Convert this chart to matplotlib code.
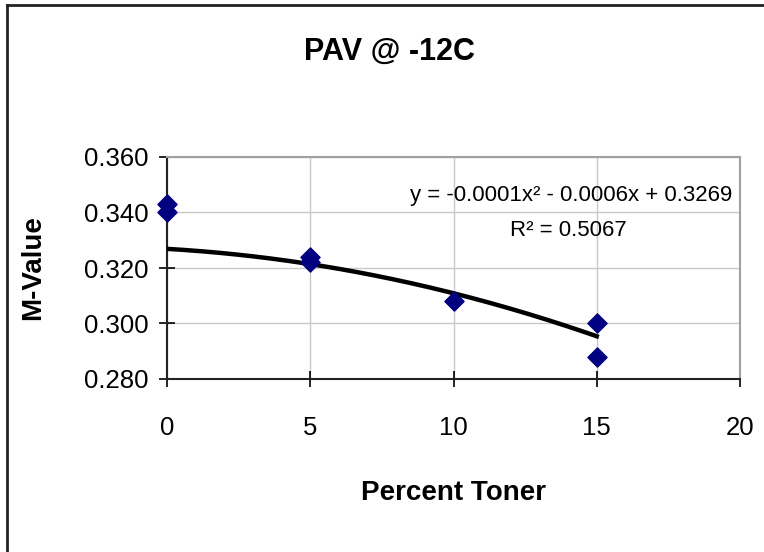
import numpy as np
import matplotlib
matplotlib.use("Agg")
import matplotlib.pyplot as plt
from matplotlib.lines import Line2D

plt.rcParams["font.family"] = ["Liberation Sans", "DejaVu Sans"]

# data
toner = [0, 0, 5, 5, 10, 15, 15]
m_value = [0.343, 0.340, 0.324, 0.322, 0.308, 0.300, 0.288]

# trendline coefficients as printed on the chart (x^2, x, 1)
trend_coef = [-0.0001, -0.0006, 0.3269]
trend_label = "y = -0.0001x² - 0.0006x + 0.3269"
r2_label = "R² = 0.5067"

x_ticks = [0, 5, 10, 15, 20]
y_ticks = [0.280, 0.300, 0.320, 0.340, 0.360]

fig = plt.figure(figsize=(7.64, 5.52), dpi=100)
ax = fig.add_axes([167 / 764, 1 - 379 / 552, (740 - 167) / 764, (379 - 157) / 552])

# outer chart frame (only top / left visible in the reference)
fig.add_artist(Line2D([7 / 764, 1], [1 - 5 / 552, 1 - 5 / 552], color="#222222", lw=2.0,
                      transform=fig.transFigure))
fig.add_artist(Line2D([7 / 764, 7 / 764], [0, 1 - 5 / 552], color="#222222", lw=2.0,
                      transform=fig.transFigure))

# trendline
xt = np.linspace(min(toner), max(toner), 200)
ax.plot(xt, np.polyval(trend_coef, xt), color="black", lw=3.2, zorder=3)

# data points
ax.scatter(toner, m_value, marker="D", s=95, color="#000080", zorder=4, clip_on=False)

ax.set_xlim(0, 20)
ax.set_ylim(0.280, 0.360)
ax.set_xticks(x_ticks)
ax.set_yticks(y_ticks)
ax.set_yticklabels([f"{v:.3f}" for v in y_ticks])
ax.tick_params(direction="inout", length=11, width=1.2, labelsize=18.5, pad=8)
ax.tick_params(axis="x", pad=21)

ax.grid(True, color="#c8c8c8", lw=1.0)
ax.set_axisbelow(True)
for s in ["top", "right"]:
    ax.spines[s].set_color("#a0a0a0")
    ax.spines[s].set_linewidth(1.5)
for s in ["left", "bottom"]:
    ax.spines[s].set_color("#222222")
    ax.spines[s].set_linewidth(1.5)

ax.set_xlabel("Percent Toner", fontsize=20, fontweight="bold", labelpad=29)
ax.set_ylabel("M-Value", fontsize=20, fontweight="bold", labelpad=27)
fig.text(390 / 764, 1 - 52 / 552, "PAV @ -12C", fontsize=22, fontweight="bold",
         ha="center", va="center")

ax.text(571 / 764, 1 - 195 / 552, trend_label, fontsize=16, ha="center", va="center",
        transform=fig.transFigure)
ax.text(568 / 764, 1 - 230 / 552, r2_label, fontsize=16, ha="center", va="center",
        transform=fig.transFigure)

fig.savefig("out.png", dpi=100)
